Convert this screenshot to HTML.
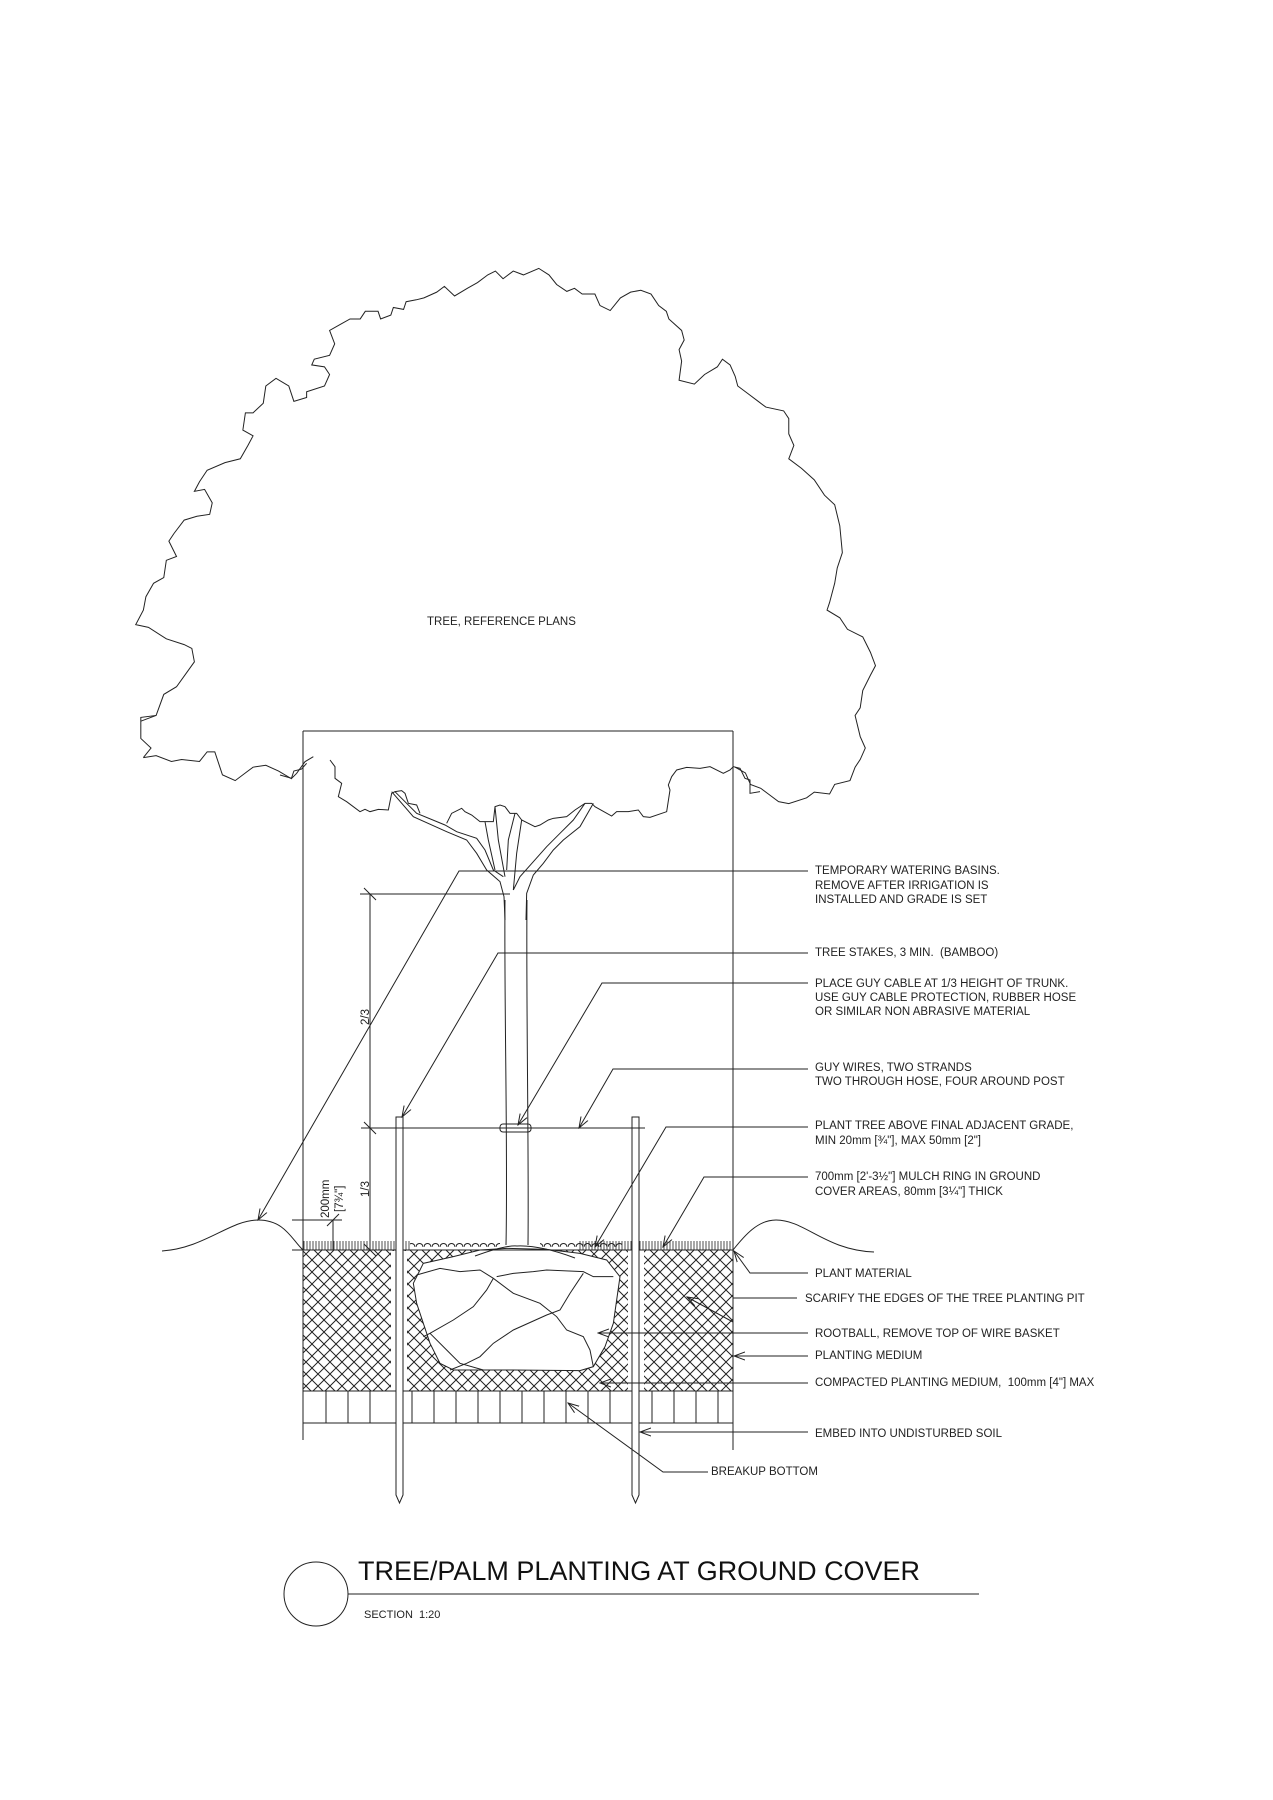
<!DOCTYPE html>
<html><head><meta charset="utf-8"><style>
html,body{margin:0;padding:0;background:#fff;}
svg{display:block;}
text{font-family:"Liberation Sans",sans-serif;fill:#222;white-space:pre;}
</style></head><body>
<svg width="1273" height="1800" viewBox="0 0 1273 1800" xmlns="http://www.w3.org/2000/svg">
<defs>
<pattern id="hx" width="12" height="12" patternUnits="userSpaceOnUse">
<path d="M0,0 L12,12 M12,0 L0,12" stroke="#222" stroke-width="1"/>
</pattern>
<pattern id="gr" width="3" height="10" patternUnits="userSpaceOnUse">
<path d="M1,1 L1,10" stroke="#222" stroke-width="0.8"/>
</pattern>
<pattern id="mu" width="8" height="8" patternUnits="userSpaceOnUse">
<path d="M0,7 A3.5,3.5 0 0 1 7,7" fill="none" stroke="#222" stroke-width="1"/>
</pattern>
<marker id="ar" markerWidth="12" markerHeight="12" refX="11" refY="6" orient="auto" markerUnits="userSpaceOnUse">
<path d="M0,2 L11,6 L0,10" fill="none" stroke="#222" stroke-width="1"/>
</marker>
</defs>
<g fill="none" stroke="#222" stroke-width="1">
<g transform="translate(100,250) scale(0.5102,0.3831)">
<polyline vector-effect="non-scaling-stroke" points="85,1325 100,1300 80,1275 80,1220 110,1215 125,1160 150,1140 185,1075 180,1040 165,1030 130,1015 95,985 70,978 85,940 90,905 105,870 125,855 130,810 150,800 135,760 145,740 165,705 190,695 215,690 220,660 205,625 185,630 195,605 210,575 245,555 275,545 290,510 300,485 280,470 285,425 300,425 320,400 325,355 345,335 370,355 380,395 405,385 405,370 440,355 450,325 440,305 415,300 420,285 450,275 460,245 450,210 470,195 490,180 510,180 520,160 545,160 550,180 570,170 575,150 595,155 600,135 620,130 635,125 660,110 675,95 695,120 720,100 740,85 760,65 775,55 790,75 810,55 830,65 860,48 880,65 895,90 915,108 930,100 945,115 970,115 980,145 1000,158 1020,125 1040,110 1060,105 1080,115 1095,145 1110,160 1115,180 1140,210 1145,235 1135,260 1140,290 1135,340 1165,350 1185,325 1210,305 1220,285 1235,300 1245,330 1250,355 1270,375 1290,395 1305,410 1340,420 1350,440 1350,480 1360,510 1350,545 1375,570 1400,600 1420,640 1440,665 1450,720 1455,790 1445,830 1440,870 1430,920 1425,940 1450,960 1465,990 1495,1010 1510,1050 1520,1085 1510,1110 1495,1150 1490,1195 1480,1215 1490,1270 1500,1300 1490,1330 1480,1350 1470,1385 1440,1395 1430,1420 1400,1415 1385,1430 1350,1445 1330,1440 1310,1420 1295,1405 1275,1395 1265,1365 1245,1350"/>
<polyline vector-effect="non-scaling-stroke" points="80,1230 110,1215"/>
<polyline vector-effect="non-scaling-stroke" points="85,1325 110,1320 140,1335 160,1330 195,1335 210,1310 225,1310 235,1350 240,1370 265,1385 290,1360 300,1350 325,1345 350,1360 375,1380 380,1360 395,1355 405,1340"/>
</g>
<g transform="translate(280,760) scale(0.33333)">
<polyline vector-effect="non-scaling-stroke" points="0,45 35,55 50,40 75,5 100,-10"/>
<polyline vector-effect="non-scaling-stroke" points="150,0 165,20 165,55 185,70 175,110 200,125 240,155 255,148 270,155 295,148 325,150 335,100 345,95 365,92 375,100 385,130 410,135 420,160"/>
<polyline vector-effect="non-scaling-stroke" points="500,190 515,160 545,145 555,155 575,165 600,185 615,185 640,185 645,140 660,135 675,140 690,160 710,160 725,180 765,200 780,195 805,180 820,175 860,170 885,150 915,130 935,130 945,140 995,168 1010,155 1045,155 1075,150 1090,170 1110,172 1160,155 1170,90 1165,75 1175,50 1190,30 1220,22 1260,25 1290,20 1330,40 1350,30 1360,20 1380,25 1395,55 1410,60 1410,100 1440,95"/>
<polyline vector-effect="non-scaling-stroke" points="335,95 400,170 500,215 560,240 590,280 620,330 660,365 672,410 675,480"/>
<polyline vector-effect="non-scaling-stroke" points="345,95 410,160 495,195 530,215 590,235 615,270 640,330 670,350"/>
<polyline vector-effect="non-scaling-stroke" points="615,185 625,240 645,330"/>
<polyline vector-effect="non-scaling-stroke" points="645,140 655,240 675,350"/>
<polyline vector-effect="non-scaling-stroke" points="705,160 685,240 680,330"/>
<polyline vector-effect="non-scaling-stroke" points="725,180 710,280 700,390"/>
<polyline vector-effect="non-scaling-stroke" points="940,130 900,200 850,240 820,270 790,310 760,345 740,400 738,480"/>
<polyline vector-effect="non-scaling-stroke" points="915,130 880,180 840,220 800,260 760,305 720,350 700,390"/>
</g>
<path d="M303,731 L733,731 M303,731 L303,1440 M733,731 L733,1450"/>
<path d="M505,900 C504,1000 508,1150 506,1245 M527,900 C526,1000 529,1150 528,1245"/>
<rect x="303" y="1250" width="430" height="141" fill="url(#hx)" stroke="none"/>
<rect x="391" y="1251" width="16" height="140" fill="#fff" stroke="none"/>
<rect x="628" y="1251" width="16" height="140" fill="#fff" stroke="none"/>
<path d="M303,1391 L733,1391"/>
<g transform="translate(280,1150) scale(0.33333)">
<path vector-effect="non-scaling-stroke" fill="#fff" d="M400,400 L430,340 L520,320 L600,300 L680,295 L800,298 L900,310 L980,330 L1020,380 L1010,450 L1000,520 L975,590 L940,650 L900,662 L700,660 L520,660 L480,640 L450,580 L430,520 L410,460 Z"/>
<polyline vector-effect="non-scaling-stroke" points="410,375 480,355 540,365 600,360 640,385 700,430 780,460 830,500 860,540 910,560 930,600 940,650"/>
<polyline vector-effect="non-scaling-stroke" points="640,385 620,420 580,470 520,510 450,550 430,560"/>
<polyline vector-effect="non-scaling-stroke" points="650,380 700,370 760,365 800,360 910,365 940,380 1000,380"/>
<polyline vector-effect="non-scaling-stroke" points="910,370 870,430 840,480 800,495 700,540 640,580 600,620 560,640 510,660"/>
<polyline vector-effect="non-scaling-stroke" points="450,550 500,600 540,640 610,660"/>
</g>
<path d="M303,1391 L303,1423 L733,1423"/>
<path d="M326,1391V1423 M348,1391V1423 M370,1391V1423 M412,1391V1423 M434,1391V1423 M456,1391V1423 M478,1391V1423 M500,1391V1423 M522,1391V1423 M544,1391V1423 M566,1391V1423 M588,1391V1423 M610,1391V1423 M652,1391V1423 M674,1391V1423 M696,1391V1423 M718,1391V1423"/>
<path d="M292,1250 L733,1250"/>
<rect x="303" y="1240" width="108" height="10" fill="url(#gr)" stroke="none"/>
<rect x="578" y="1240" width="155" height="10" fill="url(#gr)" stroke="none"/>
<rect x="410" y="1242" width="90" height="8" fill="url(#mu)" stroke="none"/>
<rect x="540" y="1242" width="82" height="8" fill="url(#mu)" stroke="none"/>
<path d="M475,1256 Q505,1245 517,1246 Q540,1245 575,1258"/>
<path d="M162,1251 C205,1248 230,1220 258,1220 C285,1220 292,1240 303,1250"/>
<path d="M733,1250 C745,1235 758,1220 776,1220 C805,1220 825,1250 874,1252"/>
<path fill="#fff" d="M396,1117 L403,1117 L403,1495 L399.5,1503 L396,1495 Z"/>
<path fill="#fff" d="M632,1117 L639,1117 L639,1495 L635.5,1503 L632,1495 Z"/>
<path d="M361,1128 L645,1128"/>
<rect x="500" y="1124" width="31" height="8" rx="3"/>
<path d="M370,894 L370,1250 M360,894 L510,894 M364,888 L376,900 M364,1122 L376,1134 M364,1244 L376,1256"/>
<path d="M292,1220 L342,1220 M333,1220 L333,1250 M327,1226 L339,1214"/>
<polyline points="808,871 459,871 258,1220" marker-end="url(#ar)"/>
<polyline points="808,953 498,953 402,1117" marker-end="url(#ar)"/>
<polyline points="808,983 602,983 518,1125" marker-end="url(#ar)"/>
<polyline points="808,1069 613,1069 579,1128" marker-end="url(#ar)"/>
<polyline points="808,1127 666,1127 595,1247" marker-end="url(#ar)"/>
<polyline points="808,1177 704,1177 663,1247" marker-end="url(#ar)"/>
<polyline points="808,1273 750,1273 734,1251" marker-end="url(#ar)"/>
<polyline points="797,1298 733,1298"/>
<polyline points="733,1322 687,1297" marker-end="url(#ar)"/>
<polyline points="808,1333 598,1333" marker-end="url(#ar)"/>
<polyline points="808,1356 734,1356" marker-end="url(#ar)"/>
<polyline points="808,1383 600,1383" marker-end="url(#ar)"/>
<polyline points="808,1432 640,1432" marker-end="url(#ar)"/>
<polyline points="708,1472 663,1472 568,1403" marker-end="url(#ar)"/>
<circle cx="316" cy="1594" r="32"/>
<path d="M348,1594 L979,1594"/>
</g>
<g font-size="11.5">
<text x="427" y="625">TREE, REFERENCE PLANS</text>
<text x="815" y="874">TEMPORARY WATERING BASINS.</text>
<text x="815" y="889">REMOVE AFTER IRRIGATION IS</text>
<text x="815" y="903">INSTALLED AND GRADE IS SET</text>
<text x="815" y="956">TREE STAKES, 3 MIN.  (BAMBOO)</text>
<text x="815" y="987">PLACE GUY CABLE AT 1/3 HEIGHT OF TRUNK.</text>
<text x="815" y="1001">USE GUY CABLE PROTECTION, RUBBER HOSE</text>
<text x="815" y="1015">OR SIMILAR NON ABRASIVE MATERIAL</text>
<text x="815" y="1071">GUY WIRES, TWO STRANDS</text>
<text x="815" y="1085">TWO THROUGH HOSE, FOUR AROUND POST</text>
<text x="815" y="1129">PLANT TREE ABOVE FINAL ADJACENT GRADE,</text>
<text x="815" y="1144">MIN 20mm [¾"], MAX 50mm [2"]</text>
<text x="815" y="1180">700mm [2'-3½"] MULCH RING IN GROUND</text>
<text x="815" y="1195">COVER AREAS, 80mm [3¼"] THICK</text>
<text x="815" y="1277">PLANT MATERIAL</text>
<text x="805" y="1302">SCARIFY THE EDGES OF THE TREE PLANTING PIT</text>
<text x="815" y="1337">ROOTBALL, REMOVE TOP OF WIRE BASKET</text>
<text x="815" y="1359">PLANTING MEDIUM</text>
<text x="815" y="1386">COMPACTED PLANTING MEDIUM,  100mm [4"] MAX</text>
<text x="815" y="1437">EMBED INTO UNDISTURBED SOIL</text>
<text x="711" y="1475">BREAKUP BOTTOM</text>
<text transform="translate(369,1025) rotate(-90)">2/3</text>
<text transform="translate(369,1197) rotate(-90)">1/3</text>
<text transform="translate(329,1218) rotate(-90)">200mm</text>
<text transform="translate(343,1212) rotate(-90)">[7¾"]</text>
<text x="364" y="1618" font-size="11">SECTION  1:20</text>
</g>
<text x="358" y="1580" font-size="27" textLength="562" lengthAdjust="spacingAndGlyphs" style="fill:#111">TREE/PALM PLANTING AT GROUND COVER</text>
</svg>
</body></html>
